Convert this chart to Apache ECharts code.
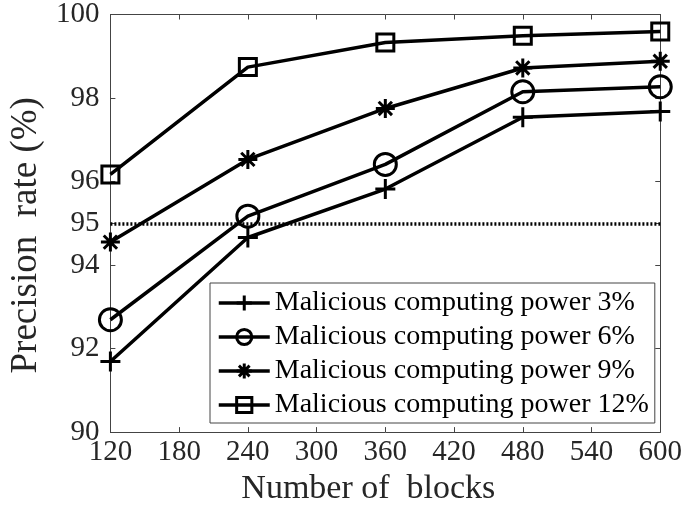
<!DOCTYPE html>
<html>
<head>
<meta charset="utf-8">
<script src="https://cdn.jsdelivr.net/npm/echarts@6/dist/echarts.min.js"></script>
<style>
  html, body { margin: 0; padding: 0; background: #fff; }
  #chart { width: 685px; height: 511px; }
</style>
</head>
<body>
<div id="chart"></div>
<script>
// data
const blocks = [120, 240, 360, 480, 600];
const power3 = [91.69, 94.66, 95.82, 97.54, 97.68];
const power6 = [92.69, 95.17, 96.41, 98.15, 98.27];
const power9 = [94.55, 96.53, 97.75, 98.72, 98.88];
const power12 = [96.17, 98.74, 99.33, 99.49, 99.59];
const yTicks = [90, 92, 94, 95, 96, 98, 100];
const threshold = 95;
const seriesNames = [
  'Malicious computing power 3%',
  'Malicious computing power 6%',
  'Malicious computing power 9%',
  'Malicious computing power 12%'
];

const FONT = 'Liberation Serif';
const AXIS_COLOR = '#444';
const TEXT_COLOR = '#262626';

const plusPath = 'path://M10,0L10,20M0,10L20,10';
const starPath = 'path://M10,0L10,20M0,10L20,10M3,3L17,17M17,3L3,17';

function pairs(ys) {
  return blocks.map(function (x, i) { return [x, ys[i]]; });
}

function makeSeries(name, ys, symbol, size) {
  return {
    name: name,
    type: 'line',
    data: pairs(ys),
    symbol: symbol,
    symbolSize: size,
    showAllSymbol: true,
    lineStyle: { color: '#000', width: 3.5 },
    itemStyle: { color: 'rgba(0,0,0,0)', borderColor: '#000', borderWidth: 3 },
    emphasis: { disabled: true },
    z: 3
  };
}

const baseX = {
  type: 'value',
  min: 120,
  max: 600,
  interval: 60,
  splitLine: { show: false },
  axisLine: { onZero: false, lineStyle: { color: AXIS_COLOR, width: 1 } },
  axisTick: { inside: true, length: 5, lineStyle: { color: AXIS_COLOR } }
};
const baseY = {
  type: 'value',
  min: 90,
  max: 100,
  interval: 1,
  splitLine: { show: false },
  axisLine: { onZero: false, lineStyle: { color: AXIS_COLOR, width: 1 } },
  axisTick: { inside: true, length: 5, customValues: yTicks, lineStyle: { color: AXIS_COLOR } }
};

const series = [
  makeSeries(seriesNames[0], power3, plusPath, 20),
  makeSeries(seriesNames[1], power6, 'circle', 22),
  makeSeries(seriesNames[2], power9, starPath, 19),
  makeSeries(seriesNames[3], power12, 'rect', 17)
];
series[0].markLine = {
  silent: true,
  symbol: ['none', 'none'],
  label: { show: false },
  lineStyle: { color: '#000', type: [2, 2], width: 3.5 },
  data: [{ yAxis: threshold }]
};

const option = {
  animation: false,
  backgroundColor: '#fff',
  grid: { left: 95, right: 23, top: 10, bottom: 78 },
  legend: {
    orient: 'vertical',
    left: 210,
    top: 283,
    padding: [6, 6, 4, 7],
    itemGap: 6,
    itemWidth: 51,
    itemHeight: 19,
    backgroundColor: '#fff',
    borderColor: AXIS_COLOR,
    borderWidth: 1,
    borderRadius: 0,
    selectedMode: false,
    lineStyle: { color: '#000', width: 3.5 },
    itemStyle: { color: 'rgba(0,0,0,0)', borderColor: '#000', borderWidth: 3 },
    textStyle: { fontFamily: FONT, fontSize: 28, color: '#000', lineHeight: 28, padding: [0, 0, 0, 0] },
    data: seriesNames
  },
  xAxis: [
    Object.assign({}, baseX, {
      position: 'bottom',
      name: 'Number of  blocks',
      nameLocation: 'middle',
      nameGap: 30,
      nameTextStyle: { fontFamily: FONT, fontSize: 34, color: TEXT_COLOR, padding: [0, 34, 0, 0] },
      axisLabel: { fontFamily: FONT, fontSize: 29, color: TEXT_COLOR, margin: 6 }
    }),
    Object.assign({}, baseX, {
      position: 'top',
      axisLabel: { show: false }
    })
  ],
  yAxis: [
    Object.assign({}, baseY, {
      position: 'left',
      name: 'Precision  rate (%)',
      nameLocation: 'middle',
      nameGap: 62,
      nameTextStyle: { fontFamily: FONT, fontSize: 37, color: TEXT_COLOR, padding: [0, 24, 0, 0] },
      axisLabel: { fontFamily: FONT, fontSize: 29, color: TEXT_COLOR, margin: 11, customValues: yTicks }
    }),
    Object.assign({}, baseY, {
      position: 'right',
      axisLabel: { show: false }
    })
  ],
  series: series
};

const chart = echarts.init(document.getElementById('chart'), null, { renderer: 'canvas' });
chart.setOption(option);
</script>
</body>
</html>
